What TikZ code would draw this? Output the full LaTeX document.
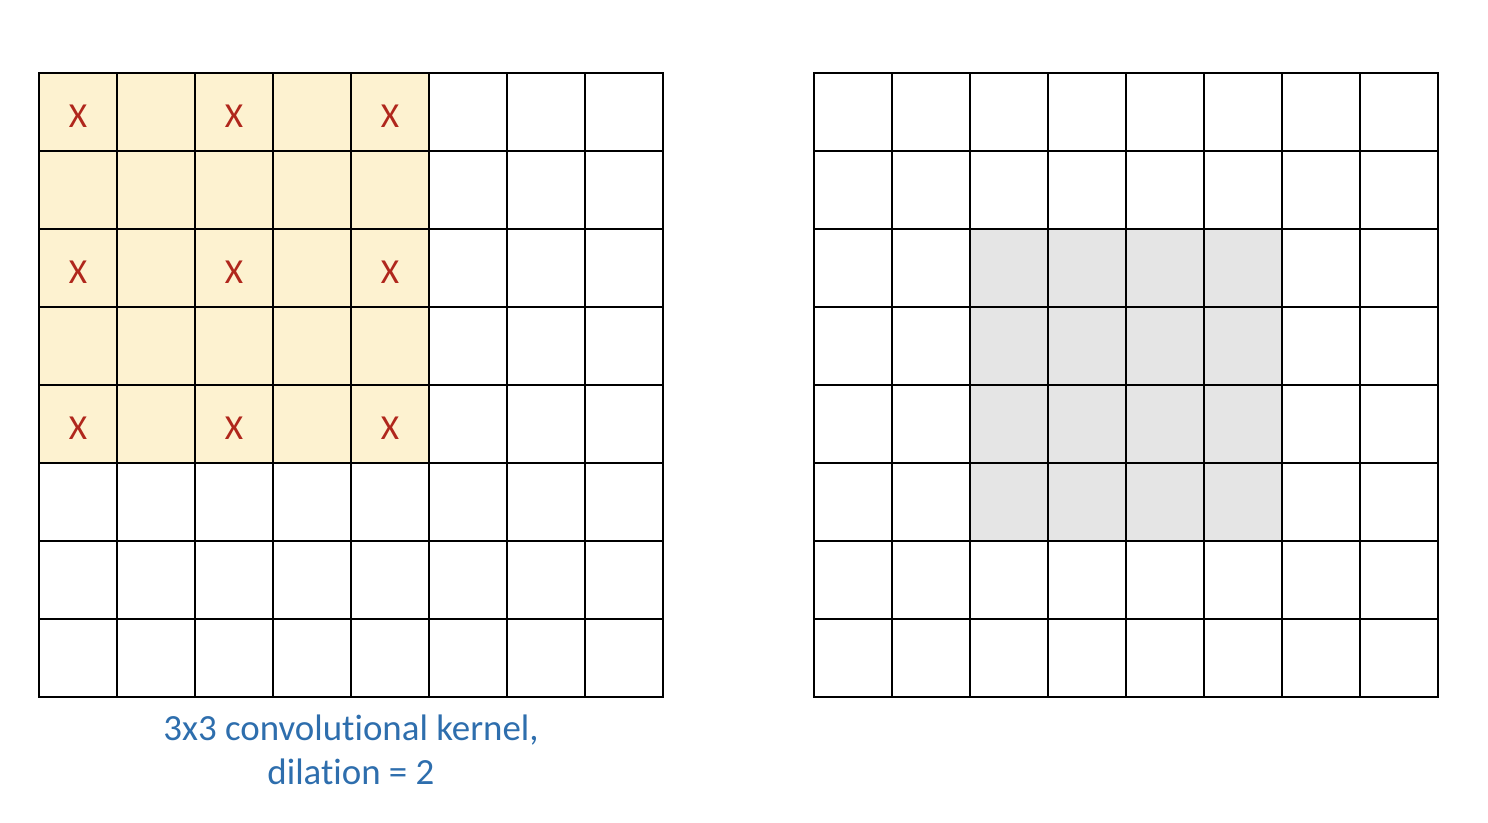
\documentclass[tikz,border=0pt]{standalone}
\usepackage{fontspec}
\setmainfont{Carlito}[Ligatures=NoCommon]
\usetikzlibrary{positioning}
\definecolor{kernelbg}{HTML}{FDF2D0}
\definecolor{hitred}{HTML}{B0271C}
\definecolor{fieldgray}{HTML}{E5E5E5}
\definecolor{captionblue}{HTML}{2E6EAD}

\begin{document}
\begin{tikzpicture}[
    x=0.02cm, y=0.02cm,
    gridline/.style={line width=0.9pt, draw=black, line cap=rect},
    kernelcell/.style={fill=kernelbg},
    fieldcell/.style={fill=fieldgray},
    hit/.style={font=\fontsize{20}{20}\selectfont, text=hitred, inner sep=0pt,
                yshift=-2.5},
    caption/.style={font=\fontsize{21}{25}\selectfont, text=captionblue,
                    align=center, inner sep=0pt},
]

\def\cs{78}

\useasboundingbox (0,0) rectangle (1488,822);

\coordinate (GL) at (39,125);
\coordinate (GR) at (814,125);

% ── Left grid: 3x3 kernel with dilation 2 ──
\begin{scope}[shift=(GL)]
    \fill[kernelcell] (0,3*\cs) rectangle (5*\cs,8*\cs);
    \foreach \k in {0,...,8} {
        \draw[gridline] (\k*\cs,0) -- (\k*\cs,8*\cs);
        \draw[gridline] (0,\k*\cs) -- (8*\cs,\k*\cs);
    }
    \foreach \r in {0,2,4} {
        \foreach \c in {0,2,4} {
            \node[hit] (x-\r-\c) at ({(\c+0.5)*\cs}, {(7.5-\r)*\cs}) {X};
        }
    }
    \node[caption] (kernelcap) at (4*\cs, -53) {3x3 convolutional kernel,\\dilation = 2};
\end{scope}

% ── Right grid: output field ──
\begin{scope}[shift=(GR)]
    \fill[fieldcell] (2*\cs,2*\cs) rectangle (6*\cs,6*\cs);
    \foreach \k in {0,...,8} {
        \draw[gridline] (\k*\cs,0) -- (\k*\cs,8*\cs);
        \draw[gridline] (0,\k*\cs) -- (8*\cs,\k*\cs);
    }
\end{scope}

\end{tikzpicture}
\end{document}
